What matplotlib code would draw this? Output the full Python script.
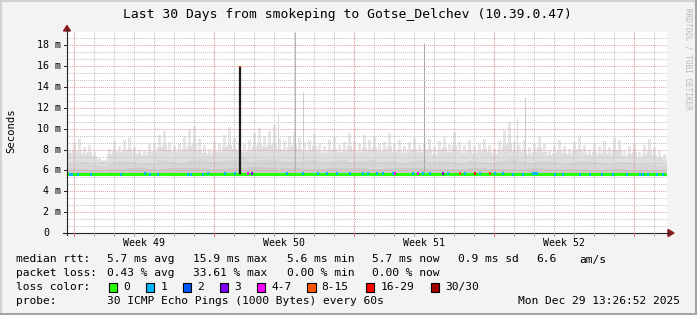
import numpy as np
import matplotlib.pyplot as plt
from matplotlib.lines import Line2D
from matplotlib.patches import Polygon, Rectangle

plt.rcParams["font.family"] = ["DejaVu Sans Mono", "DejaVu Sans"]

W, H = 697, 315
BG = "#f3f3f3"

# ─────────────────────────────────────────────
# DATA  (x in days from graph start, y in ms)
# ─────────────────────────────────────────────
week_labels = ["Week 49", "Week 50", "Week 51", "Week 52"]
week_label_days = [3.85, 10.85, 17.85, 24.85]
week_line_days = [0.35, 7.35, 14.35, 21.35, 28.35]
y_major = [0, 2, 4, 6, 8, 10, 12, 14, 16, 18]

# smoke: max ping per quarter day
smoke_max = [
    8.0, 8.6, 9.0, 8.2, 8.4, 7.8, 7.2, 7.0, 8.1, 8.8,
    8.3, 8.9, 9.1, 8.2, 8.0, 7.9, 8.5, 8.6, 9.4, 9.8,
    8.7, 8.3, 8.6, 9.2, 9.9, 10.3, 9.0, 8.4, 8.1, 8.8,
    8.6, 9.4, 10.2, 9.1, 8.8, 8.5, 8.9, 9.6, 10.1, 9.3,
    9.8, 10.4, 9.0, 8.8, 9.3, 9.7, 9.1, 8.7, 8.9, 9.5,
    8.6, 8.3, 8.9, 9.2, 8.4, 8.7, 9.6, 8.8, 8.5, 9.4,
    8.9, 9.3, 8.6, 8.8, 9.6, 8.5, 8.9, 8.3, 8.7, 9.1,
    8.4, 8.6, 9.0, 8.2, 8.8, 9.2, 8.5, 9.7, 8.7, 8.4,
    8.9, 8.3, 8.6, 9.0, 8.4, 8.1, 8.8, 9.9, 10.6, 8.7,
    8.4, 8.9, 8.2, 8.6, 9.3, 8.5, 8.0, 8.4, 8.9, 8.3,
    8.1, 8.7, 9.2, 8.4, 8.0, 8.6, 8.3, 8.8, 8.2, 9.1,
    8.9, 7.9, 8.3, 8.6, 7.8, 8.4, 9.0, 8.2, 7.9, 7.6,
]
# smoke: upper body of the ping spread per quarter day
smoke_hi = [
    7.7, 8.0, 7.9, 7.6, 7.8, 7.4, 7.0, 6.9, 7.6, 7.9,
    7.8, 8.0, 8.1, 7.7, 7.6, 7.5, 7.8, 7.9, 8.2, 8.4,
    8.0, 7.8, 7.9, 8.1, 8.3, 8.5, 8.0, 7.7, 7.6, 7.9,
    7.8, 8.2, 8.4, 8.1, 7.9, 7.8, 8.0, 8.3, 8.5, 8.2,
    8.4, 8.6, 8.1, 8.0, 8.2, 8.4, 8.1, 7.9, 8.0, 8.3,
    7.9, 7.7, 8.0, 8.1, 7.8, 7.9, 8.3, 8.0, 7.8, 8.2,
    8.0, 8.2, 7.9, 8.0, 8.3, 7.8, 8.0, 7.7, 7.9, 8.1,
    7.8, 7.9, 8.1, 7.6, 8.0, 8.2, 7.8, 8.4, 7.9, 7.7,
    8.0, 7.7, 7.9, 8.1, 7.8, 7.6, 8.0, 8.4, 8.6, 7.9,
    7.8, 8.0, 7.6, 7.8, 8.2, 7.8, 7.5, 7.7, 8.0, 7.7,
    7.6, 7.9, 8.1, 7.7, 7.5, 7.8, 7.6, 7.9, 7.6, 8.0,
    8.0, 7.4, 7.6, 7.8, 7.3, 7.6, 8.0, 7.5, 7.3, 7.1,
]
# smoke: denser middle part per half day
smoke_mid = [
    6.6, 6.8, 6.5, 6.4, 6.7, 6.9, 6.8, 6.6, 6.7, 7.0,
    6.8, 6.7, 6.9, 7.1, 6.8, 6.9, 7.0, 7.2, 6.9, 7.0,
    7.1, 6.9, 6.8, 6.9, 7.0, 6.8, 6.9, 7.0, 6.8, 6.9,
    7.0, 6.8, 6.9, 6.7, 6.9, 7.0, 6.8, 6.9, 6.8, 6.7,
    6.9, 6.8, 6.7, 6.9, 7.1, 6.8, 6.7, 6.9, 6.8, 6.6,
    6.7, 6.9, 6.8, 6.7, 6.6, 6.8, 6.7, 6.6, 6.5, 6.4,
]
# smoke: dense core near the median per day
smoke_core = [
    6.1, 6.0, 6.1, 6.2, 6.1, 6.2, 6.2, 6.1, 6.2, 6.3,
    6.2, 6.2, 6.1, 6.2, 6.2, 6.1, 6.2, 6.2, 6.1, 6.1,
    6.2, 6.1, 6.1, 6.2, 6.1, 6.1, 6.0, 6.1, 6.0, 6.0,
]
smoke_min = [
    5.45, 5.45, 5.45, 5.45, 5.45, 5.45, 5.45, 5.45, 5.45, 5.45,
    5.45, 5.45, 5.45, 5.45, 5.45, 5.45, 5.45, 5.45, 5.45, 5.45,
    5.45, 5.45, 5.45, 5.45, 5.45, 5.45, 5.45, 5.45, 5.45, 5.45,
]
median_rtt = [
    5.64, 5.63, 5.65, 5.66, 5.65, 5.64, 5.65, 5.66, 5.66, 5.67,
    5.67, 5.66, 5.66, 5.67, 5.66, 5.66, 5.67, 5.67, 5.66, 5.66,
    5.66, 5.66, 5.65, 5.66, 5.65, 5.65, 5.64, 5.64, 5.64, 5.64,
]

# packet loss events on the median line (day, loss class)
loss_day = [0.15, 0.25, 0.55, 1.2, 2.7, 3.9, 4.15, 4.55, 6.05, 6.2, 6.8, 7.05,
            7.9, 8.4, 9.05, 9.25, 11.0, 11.8, 12.55, 13.0, 13.5, 14.15, 14.8,
            15.05, 15.5, 15.8, 16.3, 16.4, 17.3, 17.55, 17.8, 18.15, 18.8,
            19.05, 19.65, 19.9, 20.4, 20.65, 21.15, 21.4, 21.8, 22.3, 22.8,
            23.3, 23.4, 23.5, 24.4, 24.8, 25.65, 26.15, 26.75, 27.3, 28.0,
            28.65, 28.8, 29.05, 29.5, 29.8]
loss_cls = [1, 1, 1, 1, 1, 1, 1, 1, 1, 1, 1, 1,
            1, 1, 4, 3, 1, 1, 1, 1, 1, 1, 1,
            1, 1, 1, 1, 4, 1, 4, 1, 1, 3,
            1, 5, 1, 6, 1, 5, 1, 1, 1, 1,
            1, 1, 1, 1, 1, 1, 1, 1, 1, 1,
            1, 1, 1, 1, 1]

# single large outliers in the smoke
outlier_day = [10.55, 11.4, 11.8, 17.85, 22.5, 22.9]
outlier_val = [11.5, 19.3, 13.5, 18.2, 11.0, 13.0]

# median spike with heavy loss
spike_day = 8.65
spike_val = 16.0

loss_labels = ["0", "1", "2", "3", "4-7", "8-15", "16-29", "30/30"]
loss_colors = ["#26ff00", "#00b8ff", "#0059ff", "#7e00ff",
               "#ff00ff", "#ff5500", "#ff0000", "#a10000"]

stats_rtt = ["5.7 ms avg", "15.9 ms max", "5.6 ms min", "5.7 ms now",
             "0.9 ms sd", "6.6", "am/s"]
stats_loss = ["0.43 % avg", "33.61 % max", "0.00 % min", "0.00 % now"]


def fx(x):
    return x / W


def fy(y):
    return 1 - y / H


# ─────────────────────────────────────────────
# FIGURE
# ─────────────────────────────────────────────
fig = plt.figure(figsize=(W / 100, H / 100), dpi=100)
fig.patch.set_facecolor(BG)

PX_PER_MS = 10.43
ax = fig.add_axes([fx(67), fy(233), 600 / W, 201 / H])
ax.set_xlim(0, 30)
ax.set_ylim(0, 201 / PX_PER_MS)
ax.set_facecolor("white")
for s in ax.spines.values():
    s.set_visible(False)
ax.set_xticks([])
ax.set_yticks([])

q_edges = np.arange(len(smoke_hi) + 1) * 0.25
h_edges = np.arange(len(smoke_mid) + 1) * 0.5
d_edges = np.arange(len(smoke_core) + 1) * 1.0
q_base = np.repeat(smoke_min, 4)
h_base = np.repeat(smoke_min, 2)

# smoke layers
centers = q_edges[:-1] + 0.125
ax.bar(centers, np.array(smoke_max) - q_base, bottom=q_base, width=0.12,
       color="#e6e6e6", linewidth=0, zorder=1)
ax.stairs(smoke_hi, q_edges, baseline=q_base, fill=True, color="#dfdfdf", zorder=1.1)
ax.stairs(smoke_mid, h_edges, baseline=h_base, fill=True, color="#d6d6d6", zorder=1.2)
ax.stairs(smoke_core, d_edges, baseline=smoke_min, fill=True, color="#cbcbcb", zorder=1.3)
ax.vlines(outlier_day, np.array(median_rtt)[np.array(outlier_day).astype(int)],
          outlier_val, colors=["#d8d8d8", "#b4b4b4", "#d0d0d0", "#a8a8a8", "#d8d8d8", "#d0d0d0"],
          linewidth=0.75, zorder=1.4)

# grid (drawn over smoke, like rrdtool)
for k in range(1, 29):
    v = k * 2 / 3
    if k % 3:
        ax.axhline(v, color="#c4c4c4", lw=0.75, ls=(0, (1, 1)), zorder=2)
for v in y_major[1:]:
    ax.axhline(v, color="#eaa0a0", lw=0.75, ls=(0, (1, 1)), zorder=2.1)
for d in range(30):
    ax.axvline(0.35 + d, color="#c4c4c4", lw=0.75, ls=(0, (1, 1)), zorder=2)
for d in week_line_days:
    ax.axvline(d, color="#eaa0a0", lw=0.75, ls=(0, (1, 1)), zorder=2.1)

# median line + loss colours
ax.stairs(median_rtt, d_edges, baseline=None, color=loss_colors[0], lw=2.2, zorder=3)
med_at = np.array(median_rtt)[np.array(loss_day).astype(int)]
ax.bar(loss_day, 0.29, bottom=med_at - 0.145, width=0.09,
       color=[loss_colors[c] for c in loss_cls], linewidth=0, zorder=3.1)
ax.vlines(spike_day, median_rtt[int(spike_day)], spike_val, color="#1e1e1e", lw=1.6, zorder=3.2)
ax.vlines(spike_day, spike_val - 0.12, spike_val, color=loss_colors[5], lw=1.6, zorder=3.3)

# ─────────────────────────────────────────────
# AXES LINES, ARROWS, TICKS
# ─────────────────────────────────────────────
AX_COL = "#222222"
ARROW = "#8c1c1c"
fig.add_artist(Line2D([fx(67), fx(67)], [fy(235), fy(29)], color=AX_COL, lw=0.8))
fig.add_artist(Line2D([fx(63), fx(669)], [fy(233), fy(233)], color=AX_COL, lw=0.8))
fig.add_artist(Polygon([(fx(63.5), fy(31)), (fx(70.5), fy(31)), (fx(67), fy(25.5))],
                       closed=True, color=ARROW, transform=fig.transFigure))
fig.add_artist(Polygon([(fx(668), fy(229.5)), (fx(668), fy(236.5)), (fx(674), fy(233))],
                       closed=True, color=ARROW, transform=fig.transFigure))
for v in y_major:
    yp = 233 - v * PX_PER_MS
    fig.add_artist(Line2D([fx(64), fx(67)], [fy(yp), fy(yp)], color=AX_COL, lw=0.7))
for d in range(30):
    xp = 67 + (0.35 + d) * 20
    fig.add_artist(Line2D([fx(xp), fx(xp)], [fy(233), fy(235.5)], color="#aaaaaa", lw=0.7))
for d in week_line_days:
    xp = 67 + d * 20
    fig.add_artist(Line2D([fx(xp), fx(xp)], [fy(233), fy(236)], color="#e07070", lw=0.7))

# ─────────────────────────────────────────────
# TEXT
# ─────────────────────────────────────────────
fig.text(fx(347), fy(14.5), "Last 30 Days from smokeping to Gotse_Delchev (10.39.0.47)",
         ha="center", va="center", fontsize=9.4, color="#000000")
fig.text(fx(11), fy(131), "Seconds", rotation=90, ha="center", va="center",
         fontsize=7.6, color="#000000")
fig.text(fx(688), fy(59), "RRDTOOL / TOBI OETIKER", rotation=270, ha="center",
         va="center", fontsize=5.6, color="#b8b8b8")

for v in y_major:
    yp = 233 - v * PX_PER_MS
    if v == 0:
        fig.text(fx(49.5), fy(yp), "0", ha="right", va="center", fontsize=7.2)
    else:
        fig.text(fx(61), fy(yp), f"{v} m", ha="right", va="center", fontsize=7.2)
for lab, d in zip(week_labels, week_label_days):
    fig.text(fx(67 + d * 20), fy(242.5), lab, ha="center", va="center", fontsize=7.1)

LS = 8.1
rows_y = [259.5, 273, 287, 301]
fig.text(fx(16), fy(rows_y[0]), "median rtt:", va="center", fontsize=LS)
for txt, xp in zip(stats_rtt, [107.3, 193.3, 286.7, 372.3, 458.3, 536.7, 579.3]):
    fig.text(fx(xp), fy(rows_y[0]), txt, va="center", fontsize=LS)
fig.text(fx(16), fy(rows_y[1]), "packet loss:", va="center", fontsize=LS)
for txt, xp in zip(stats_loss, [107.3, 193.3, 286.7, 372.3]):
    fig.text(fx(xp), fy(rows_y[1]), txt, va="center", fontsize=LS)
fig.text(fx(16), fy(rows_y[2]), "loss color:", va="center", fontsize=LS)
box_x = [108.7, 145.7, 182.7, 219.7, 256.7, 307.0, 365.7, 430.7]
for lab, col, bx in zip(loss_labels, loss_colors, box_x):
    fig.add_artist(Rectangle((fx(bx), fy(291.5)), 8.7 / W, 9 / H, facecolor=col,
                             edgecolor="#000000", lw=0.8, transform=fig.transFigure))
    fig.text(fx(bx + 14.6), fy(rows_y[2]), lab, va="center", fontsize=LS)
fig.text(fx(16), fy(rows_y[3]), "probe:", va="center", fontsize=LS)
fig.text(fx(107.3), fy(rows_y[3]), "30 ICMP Echo Pings (1000 Bytes) every 60s",
         va="center", fontsize=LS)
fig.text(fx(680), fy(rows_y[3]), "Mon Dec 29 13:26:52 2025", ha="right",
         va="center", fontsize=LS)

# image frame (rrdtool shade)
fig.add_artist(Line2D([0, 1], [fy(0.5), fy(0.5)], color="#d2d2d2", lw=1.5))
fig.add_artist(Line2D([fx(0.5), fx(0.5)], [0, 1], color="#d2d2d2", lw=1.5))
fig.add_artist(Line2D([0, 1], [fy(313.5), fy(313.5)], color="#a4a4a4", lw=2.2))
fig.add_artist(Line2D([fx(695.5), fx(695.5)], [0, 1], color="#a4a4a4", lw=2.2))

fig.savefig("out.png", dpi=100, facecolor=BG)
